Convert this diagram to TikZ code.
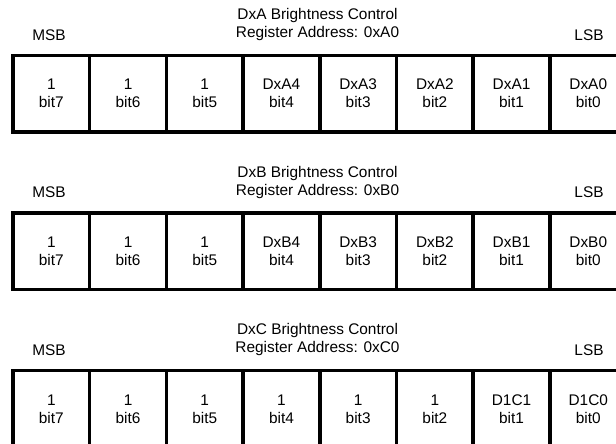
\documentclass[tikz,border=0pt]{standalone}
\usepackage{fontspec}
\setmainfont{Liberation Sans}
\newcommand\regfont{\fontsize{15.4}{18}\selectfont}
\begin{document}
\begin{tikzpicture}[x=1pt,y=-1pt,
  cell/.style={draw, line width=3.5pt, minimum width=76.7pt, minimum height=76.7pt,
    inner sep=0pt, align=center, font=\regfont},
  regtitle/.style={inner sep=0pt, align=center, font=\regfont},
  endlabel/.style={inner sep=0pt, font=\regfont}]
\clip (0,0) rectangle (616,444);
\fill[white] (0,0) rectangle (616,444);
\foreach \r/\dy/\nm/\addr/\list in {
  A/0/DxA/0xA0/{1,1,1,DxA4,DxA3,DxA2,DxA1,DxA0},
  B/157.6/DxB/0xB0/{1,1,1,DxB4,DxB3,DxB2,DxB1,DxB0},
  C/315.2/DxC/0xC0/{1,1,1,1,1,1,D1C1,D1C0}}{
  \node[regtitle] (t\r) at (317.5, 24.5+\dy) {\nm{} Brightness Control\\Register Address: \addr};
  \node[endlabel] (msb\r) at (49, 35+\dy) {MSB};
  \node[endlabel] (lsb\r) at (589, 35+\dy) {LSB};
  \foreach \lab [count=\i from 0] in \list {
    \pgfmathtruncatemacro\bitno{7-\i}
    \node[cell] (\r\bitno) at ({13+76.7*(\i+0.5)}, 93.65+\dy) {\lab\\bit\bitno};
  }
}
\end{tikzpicture}
\end{document}
